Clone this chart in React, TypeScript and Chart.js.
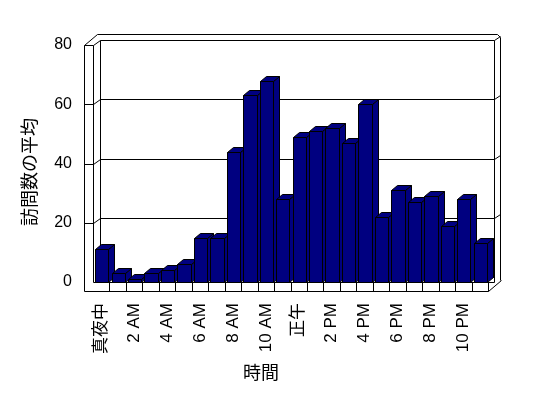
import React, { useEffect, useRef } from "react";
import { Chart, registerables } from "chart.js";

Chart.register(...registerables);

const hours = [
  "真夜中", "1 AM", "2 AM", "3 AM", "4 AM", "5 AM", "6 AM", "7 AM", "8 AM", "9 AM", "10 AM", "11 AM",
  "正午", "1 PM", "2 PM", "3 PM", "4 PM", "5 PM", "6 PM", "7 PM", "8 PM", "9 PM", "10 PM", "11 PM",
];
const visits = [11, 3, 1, 3, 4, 6, 15, 15, 44, 63, 68, 28, 49, 51, 52, 47, 60, 22, 31, 27, 29, 19, 28, 13];
const yTickValues = [0, 20, 40, 60, 80];
const yTitle = "訪問数の平均";
const xTitle = "時間";

const NAVY = "#000080";
const FONT = '"Liberation Sans", "Noto Sans CJK JP", sans-serif';

function line(ctx: CanvasRenderingContext2D, pts: number[][]) {
  ctx.beginPath();
  pts.forEach(([px, py], i) => {
    if (i === 0) ctx.moveTo(Math.round(px) + 0.5, Math.round(py) + 0.5);
    else ctx.lineTo(Math.round(px) + 0.5, Math.round(py) + 0.5);
  });
  ctx.stroke();
}

const frame3d = {
  id: "frame3d",
  beforeDatasetsDraw(chart: any) {
    const { ctx, chartArea, scales } = chart;
    const y = scales.y;
    const L = Math.round(chartArea.left);
    const R = Math.round(chartArea.right);
    const B = Math.round(y.getPixelForValue(yTickValues[0]));
    const T = Math.round(y.getPixelForValue(yTickValues[yTickValues.length - 1]));
    const DX = 7, DY = 5, S = 9;
    ctx.save();
    ctx.strokeStyle = "#000";
    ctx.lineWidth = 1;
    // left slab
    line(ctx, [[L - S, T], [L - S, B + S]]);
    line(ctx, [[L, T], [L, B]]);
    line(ctx, [[L + DX, T - DY], [L + DX, B - DY]]);
    line(ctx, [[L - S, T], [L, T], [L + DX, T - DY], [R + 6, T - DY], [R + 12, T - DY - 4]]);
    line(ctx, [[L - S, T], [L - S + 13, T - 11], [R + 9, T - 11], [R + 12, T - 8], [R + 12, B - 2]]);
    // right inner
    line(ctx, [[R + 6, T - DY], [R + 6, B]]);
    // gridlines
    yTickValues.slice(1, -1).forEach((v) => {
      const F = Math.round(y.getPixelForValue(v));
      line(ctx, [[L - S, F], [L, F], [L + DX, F - DY], [R + 6, F - DY], [R + 12, F - DY - 4]]);
    });
    // back floor line
    line(ctx, [[L + DX, B - DY], [R + 6, B - DY]]);
    // floor strip
    line(ctx, [[L, B], [R + 6, B]]);
    line(ctx, [[L - S, B + S], [R, B + S], [R + 13, B - 2]]);
    const n = hours.length;
    for (let k = 1; k <= n; k++) {
      const xk = L + (k * (R - L)) / n;
      line(ctx, [[xk, B], [xk, B + S]]);
    }
    ctx.restore();
  },
  beforeDatasetDraw() {
    return false;
  },
  afterDatasetsDraw(chart: any) {
    const { ctx } = chart;
    const meta = chart.getDatasetMeta(0);
    const DX = 6, DY = 5;
    ctx.save();
    ctx.strokeStyle = "#000";
    ctx.fillStyle = NAVY;
    ctx.lineWidth = 1;
    meta.data.forEach((bar: any) => {
      const p = bar.getProps(["x", "y", "base", "width"], true);
      const l = Math.round(p.x - p.width / 2 + 0.5) + 0.5;
      const r = Math.round(p.x + p.width / 2 + 0.5) + 0.5;
      const t = Math.round(p.y) + 0.5;
      const b = Math.round(p.base) + 0.5;
      // side
      ctx.beginPath();
      ctx.moveTo(r, b);
      ctx.lineTo(r, t);
      ctx.lineTo(r + DX, t - DY);
      ctx.lineTo(r + DX, b - DY);
      ctx.closePath();
      ctx.fill();
      ctx.stroke();
      // top
      ctx.beginPath();
      ctx.moveTo(l, t);
      ctx.lineTo(r, t);
      ctx.lineTo(r + DX, t - DY);
      ctx.lineTo(l + DX, t - DY);
      ctx.closePath();
      ctx.fill();
      ctx.stroke();
      // front
      ctx.beginPath();
      ctx.rect(l, t, r - l, b - t);
      ctx.fill();
      ctx.stroke();
    });
    ctx.restore();
  },
  afterDraw(chart: any) {
    const { ctx } = chart;
    ctx.save();
    ctx.fillStyle = "#000";
    ctx.font = `18px ${FONT}`;
    ctx.textAlign = "center";
    ctx.textBaseline = "middle";
    ctx.fillText(xTitle, 261, 374);
    ctx.translate(31, 172);
    ctx.rotate(-Math.PI / 2);
    ctx.fillText(yTitle, 0, 0);
    ctx.restore();
  },
};

export default function App() {
  const ref = useRef<HTMLCanvasElement | null>(null);
  useEffect(() => {
    document.body.style.margin = "0";
    const canvas = ref.current!;
    const chart = new Chart(canvas, {
      type: "bar",
      data: {
        labels: hours,
        datasets: [
          {
            data: visits,
            backgroundColor: NAVY,
            borderColor: "#000",
            borderWidth: 1,
            barPercentage: 0.81,
            categoryPercentage: 1,
          },
        ],
      },
      options: {
        responsive: false,
        animation: false,
        devicePixelRatio: 1,
        layout: { padding: { left: 0, top: 45, right: 60, bottom: 0 } },
        plugins: { legend: { display: false }, tooltip: { enabled: false } },
        scales: {
          x: {
            grid: { display: false, drawTicks: false },
            border: { display: false },
            ticks: {
              autoSkip: false,
              maxRotation: 90,
              minRotation: 90,
              padding: 21,
              color: "#000",
              font: { size: 17, family: FONT },
              callback: (_v: any, i: number) => (i % 2 === 0 ? hours[i] : ""),
            },
            afterFit: (s: any) => {
              s.height = 116;
            },
          },
          y: {
            min: 0,
            max: 80,
            grid: { display: false, drawTicks: false },
            border: { display: false },
            ticks: {
              stepSize: 20,
              padding: 21,
              color: "#000",
              font: { size: 16, family: FONT },
            },
            afterFit: (s: any) => {
              s.width = 93;
            },
          },
        },
      },
      plugins: [frame3d],
    });
    return () => chart.destroy();
  }, []);
  return <canvas ref={ref} width={548} height={398} style={{ display: "block" }} />;
}
